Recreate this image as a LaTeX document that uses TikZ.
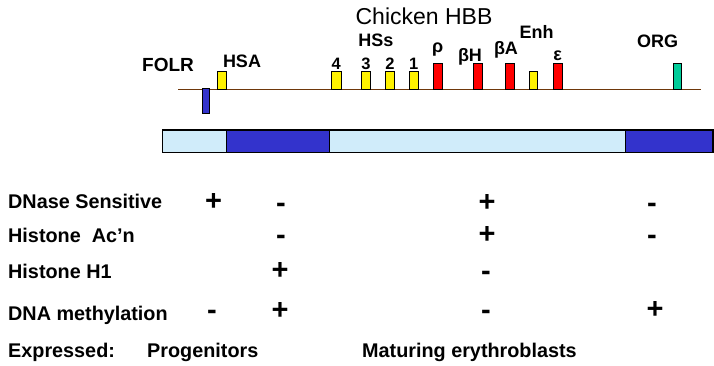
\documentclass[tikz,border=0pt]{standalone}
\usepackage{fontspec}
\setmainfont{Liberation Sans}
\definecolor{lightbar}{RGB}{208,236,250}
\definecolor{darkbar}{RGB}{51,51,204}
\definecolor{chrom}{RGB}{110,55,10}
\definecolor{orgcol}{RGB}{0,204,153}
\begin{document}
\begin{tikzpicture}[x=1pt,y=-1pt,
    lbl/.style={font=\bfseries\fontsize{19.8}{19.8}\selectfont, anchor=base west, inner sep=0pt},
    pm/.style={font=\bfseries\fontsize{29}{29}\selectfont, anchor=base, inner sep=0pt},
    tag/.style={font=\bfseries\fontsize{18}{18}\selectfont, anchor=base, inner sep=0pt},
    hs/.style={draw=black, fill=yellow, line width=0.8pt},
    gene/.style={draw=black, fill=red, line width=0.8pt}]
    \useasboundingbox (0,0) rectangle (714,366);

    % Title
    \node[font=\fontsize{23}{23}\selectfont, anchor=base, inner sep=0pt] (title) at (424,25) {Chicken HBB};

    % Chromosome line
    \coordinate (L) at (178,89.3);
    \coordinate (R) at (701,89.3);
    \draw[chrom, line width=1.5pt] (L) -- (R);

    % FOLR and HSA
    \filldraw[fill=darkbar, draw=black, line width=0.8pt] (202.5,88) rectangle (209.5,113);
    \node[tag, font=\bfseries\fontsize{19}{19}\selectfont] (folr) at (168,72) {FOLR};
    \filldraw[hs] (217.5,71) rectangle (226.5,89.3);
    \node[tag] (hsa) at (242,67.7) {HSA};

    % Hypersensitive sites
    \foreach \x/\n in {336.3/4, 366/3, 390/2, 413.7/1} {
        \filldraw[hs] (\x-4.7,71) rectangle (\x+4.7,89.3);
        \node[tag, font=\bfseries\fontsize{16.5}{16.5}\selectfont] (hs\n) at (\x,69.3) {\n};
    }
    \node[tag] (hss) at (376,46.7) {HSs};

    % Globin genes
    \foreach \x/\lx/\ly/\g [count=\i] in {437.7/437.7/52.5/ρ, 477.7/470/61.5/βH, 509.7/506/55/βA, 557.7/557.7/61/ε} {
        \filldraw[gene] (\x-4.3,63.3) rectangle (\x+4.3,89.3);
        \node[tag] (g\i) at (\lx,\ly) {\g};
    }

    % Enhancer and ORG
    \filldraw[hs] (529.3,71) rectangle (537.7,89.3);
    \node[tag] (enh) at (536.5,39) {Enh};
    \filldraw[fill=orgcol, draw=black, line width=0.8pt] (673.3,63.3) rectangle (681.7,89.3);
    \node[tag] (org) at (657.5,47.5) {ORG};

    % Domain bar
    \foreach \a/\b/\c in {162.3/226.3/lightbar, 226.3/329.3/darkbar, 329.3/625.3/lightbar, 625.3/713/darkbar} {
        \filldraw[fill=\c, draw=black, line width=1.2pt] (\a,130) rectangle (\b,152.3);
    }

    % Row labels
    \node[lbl] (dnase) at (8,208) {DNase Sensitive};
    \node[lbl] (acn) at (8,242) {Histone\ \ Ac’n};
    \node[lbl] (h1) at (8,278) {Histone H1};
    \node[lbl] (meth) at (8,320) {DNA methylation};
    \node[lbl] (expr) at (8,357) {Expressed:};
    \node[lbl] (prog) at (147,357) {Progenitors};
    \node[lbl] (mat) at (362,357) {Maturing erythroblasts};

    % Plus marks
    \foreach \x/\y [count=\k] in {213.5/200.3, 487/201.5, 487/233, 280/269, 280/309, 655/308} {
        \node[pm] (p\k) at (\x,\y+10) {+};
    }
    % Minus marks
    \foreach \x/\y [count=\k] in {281/201, 652/201, 281/233.3, 652/233, 486/269, 212/308, 486/308} {
        \node[pm] (m\k) at (\x,\y+11.5) {-};
    }
\end{tikzpicture}
\end{document}
